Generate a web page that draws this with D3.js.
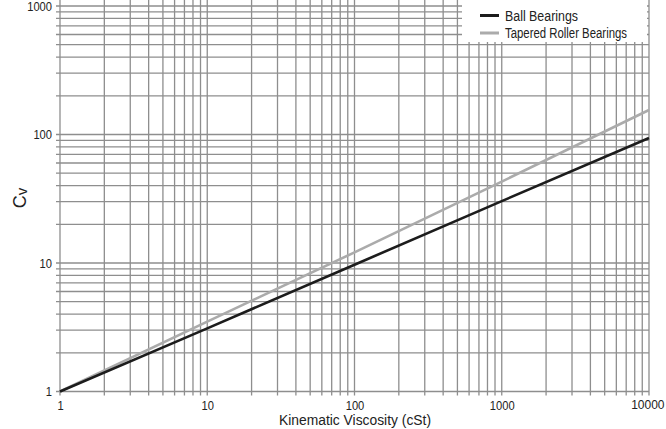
<!DOCTYPE html>
<html>
<head>
<meta charset="utf-8">
<script src="https://cdn.jsdelivr.net/npm/d3@7"></script>
<style>
html,body{margin:0;padding:0;background:#fff;}
svg{display:block;font-family:"Liberation Sans Narrow","Arial Narrow","Liberation Sans",sans-serif;}
</style>
</head>
<body>
<svg id="chart" width="666" height="429"></svg>
<script>
// Data
const viscosity = [1, 10, 100, 1000, 10000];
const ballBearings = [1, 3.1, 9.7, 30.3, 94];
const taperedRollerBearings = [1, 3.5, 12.1, 43, 155];
const xTickValues = [1, 10, 100, 1000, 10000];
const yTickValues = [1, 10, 100, 1000];
const seriesNames = ["Ball Bearings", "Tapered Roller Bearings"];
const seriesColors = ["#1c1c1c", "#ababab"];

const svg = d3.select("#chart");
const x = d3.scaleLog().domain([1, 10000]).range([60, 649]);
const y = d3.scaleLog().domain([1, 1000]).range([391.5, 6]);

// condensed look: squeeze glyphs to a target width
function condense(sel, perChar) {
  sel.each(function () {
    const t = d3.select(this);
    const n = t.text().length;
    t.attr("textLength", n * perChar).attr("lengthAdjust", "spacingAndGlyphs");
  });
}

// grid values: 1..9 per decade
const xGrid = [];
for (let d = 1; d < 10000; d *= 10) for (let k = 1; k < 10; k++) xGrid.push(d * k);
xGrid.push(10000);
const yGrid = [];
for (let d = 1; d < 1000; d *= 10) for (let k = 1; k < 10; k++) yGrid.push(d * k);
yGrid.push(1000);

const gridColor = "#8e8e8e";
const g = svg.append("g");
g.selectAll("line.v").data(xGrid).join("line")
  .attr("x1", d => x(d)).attr("x2", d => x(d))
  .attr("y1", 0).attr("y2", y(1) + 4)
  .attr("stroke", gridColor).attr("stroke-width", 1.3);
g.selectAll("line.h").data(yGrid).join("line")
  .attr("x1", x(1) - 4).attr("x2", x(10000))
  .attr("y1", d => y(d)).attr("y2", d => y(d))
  .attr("stroke", gridColor).attr("stroke-width", 1.3);

// axis labels via d3 axes (no domain lines)
const xAxis = svg.append("g").attr("transform", `translate(0,${y(1)})`)
  .call(d3.axisBottom(x).tickValues(xTickValues).tickFormat(d3.format("d")).tickSize(0).tickPadding(9));
const yAxis = svg.append("g").attr("transform", `translate(${x(1)},0)`)
  .call(d3.axisLeft(y).tickValues(yTickValues).tickFormat(d3.format("d")).tickSize(0).tickPadding(8));
[xAxis, yAxis].forEach(a => {
  a.select(".domain").remove();
  a.selectAll("text").attr("font-family", null).attr("font-size", 13).attr("fill", "#222").call(condense, 6.2);
});
// keep the last x label inside the picture
xAxis.selectAll("text").filter(d => d === 10000)
  .attr("textLength", null).attr("lengthAdjust", null)
  .attr("font-size", 12).attr("text-anchor", "end").attr("dx", 15);

// series
const line = d3.line().x(d => x(d[0])).y(d => y(d[1]));
const series = [ballBearings, taperedRollerBearings];
[1, 0].forEach(i => {
  svg.append("path")
    .datum(viscosity.map((v, j) => [v, series[i][j]]))
    .attr("d", line).attr("fill", "none")
    .attr("stroke", seriesColors[i]).attr("stroke-width", 2.6);
});

// legend
const lg = svg.append("g");
lg.append("rect").attr("x", 462).attr("y", 0).attr("width", 185).attr("height", 42).attr("fill", "#fff");
seriesNames.forEach((n, i) => {
  const yy = 15.5 + i * 17.5;
  lg.append("line").attr("x1", 480).attr("x2", 499).attr("y1", yy).attr("y2", yy)
    .attr("stroke", seriesColors[i]).attr("stroke-width", 3);
  lg.append("text").attr("x", 505).attr("y", yy + 5).attr("font-size", 14).attr("fill", "#222")
    .text(n).attr("textLength", i === 0 ? 73 : 122).attr("lengthAdjust", "spacingAndGlyphs");
});

// axis titles
const cv = svg.append("text").attr("transform", `translate(26,198) rotate(-90)`)
  .attr("text-anchor", "middle").attr("font-size", 18).attr("fill", "#222");
cv.append("tspan").text("C");
cv.append("tspan").attr("font-size", 15).attr("dy", 1).text("v");
svg.append("text").attr("x", 355).attr("y", 425).attr("text-anchor", "middle")
  .attr("font-size", 14).attr("fill", "#222").text("Kinematic Viscosity (cSt)")
  .attr("textLength", 152).attr("lengthAdjust", "spacingAndGlyphs");
</script>
</body>
</html>
